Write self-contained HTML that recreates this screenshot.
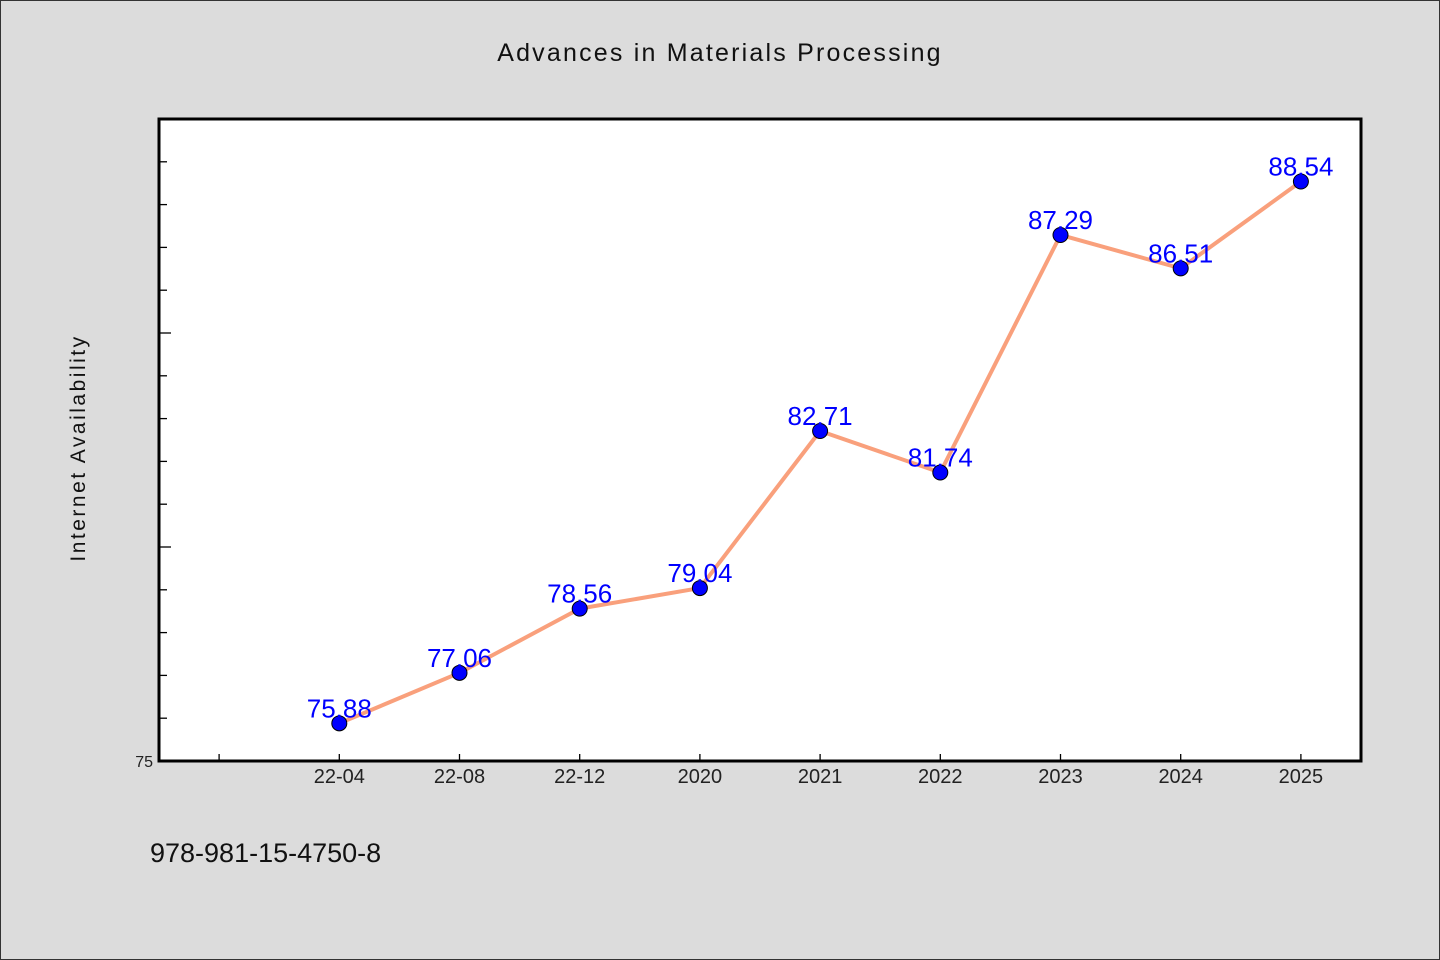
<!DOCTYPE html>
<html><head><meta charset="utf-8">
<style>
html,body{margin:0;padding:0;background:#dcdcdc;}
svg{display:block;font-family:"WenQuanYi Zen Hei","Liberation Sans",sans-serif;}
</style></head>
<body>
<svg id="chart" width="1440" height="960">
<rect x="0.5" y="0.5" width="1439" height="959" fill="#dcdcdc" stroke="#333" stroke-width="1"/>
<text x="720" y="61" text-anchor="middle" font-size="25" letter-spacing="2.2" fill="#111">Advances in Materials Processing</text>
<rect x="159" y="119" width="1202" height="642" fill="#fff"/>
<g id="axes"></g>
<g id="series"></g>
<rect x="159" y="119" width="1202" height="642" fill="none" stroke="#000" stroke-width="3"/>
<text transform="translate(85,448) rotate(-90)" text-anchor="middle" font-size="21" letter-spacing="2.5" fill="#111">Internet Availability</text>
<text x="150" y="862" font-size="27" fill="#111">978-981-15-4750-8</text>
</svg>
<script>
const categories=["22-04","22-08","22-12","2020","2021","2022","2023","2024","2025"];
const values=[75.88,77.06,78.56,79.04,82.71,81.74,87.29,86.51,88.54];
const yMin=75,yMax=90;
const L=159,R=1361,T=119,B=761;
const slots=10;
const NS="http://www.w3.org/2000/svg";
function x(i){return L+(R-L)/slots*(i+1.5);}
function y(v){return B-(v-yMin)/(yMax-yMin)*(B-T);}
function mk(tag,attrs,parent){const e=document.createElementNS(NS,tag);for(const k in attrs)e.setAttribute(k,attrs[k]);parent.appendChild(e);return e;}
const axes=document.getElementById('axes'),ser=document.getElementById('series');
for(let v=yMin+1;v<yMax;v++){
  const len=(v%5===0)?12:8;
  const t=mk('line',{x1:L,x2:L+len,y1:y(v),y2:y(v),stroke:'#000','stroke-width':1.3},axes);
  
  
}
const yl=mk('text',{x:153,y:B+6,'text-anchor':'end','font-size':16,fill:'#222'},axes);
yl.textContent=String(yMin);


for(let i=-1;i<categories.length;i++){
  const t=mk('line',{x1:x(i),x2:x(i),y1:B,y2:B-7,stroke:'#000','stroke-width':1.3},axes);
  
  
  if(i>=0){
    const lb=mk('text',{x:x(i),y:B+22,'text-anchor':'middle','font-size':20,fill:'#222'},axes);
    lb.textContent=categories[i];
    
    
  }
}
const pts=values.map((v,i)=>x(i)+','+y(v)).join(' ');
const pl=mk('polyline',{points:pts,fill:'none',stroke:'#f9a07c','stroke-width':4,'stroke-linejoin':'round'},ser);


values.forEach((v,i)=>{
  const c=mk('circle',{cx:x(i),cy:y(v),r:7.5,fill:'#0000ff',stroke:'#000','stroke-width':1},ser);
  
  
});
values.forEach((v,i)=>{
  const t=mk('text',{x:x(i),y:y(v)-6,'text-anchor':'middle','font-size':26,fill:'#0000ff'},ser);
  t.textContent=v.toFixed(2);
  
  
});
</script>
</body></html>
